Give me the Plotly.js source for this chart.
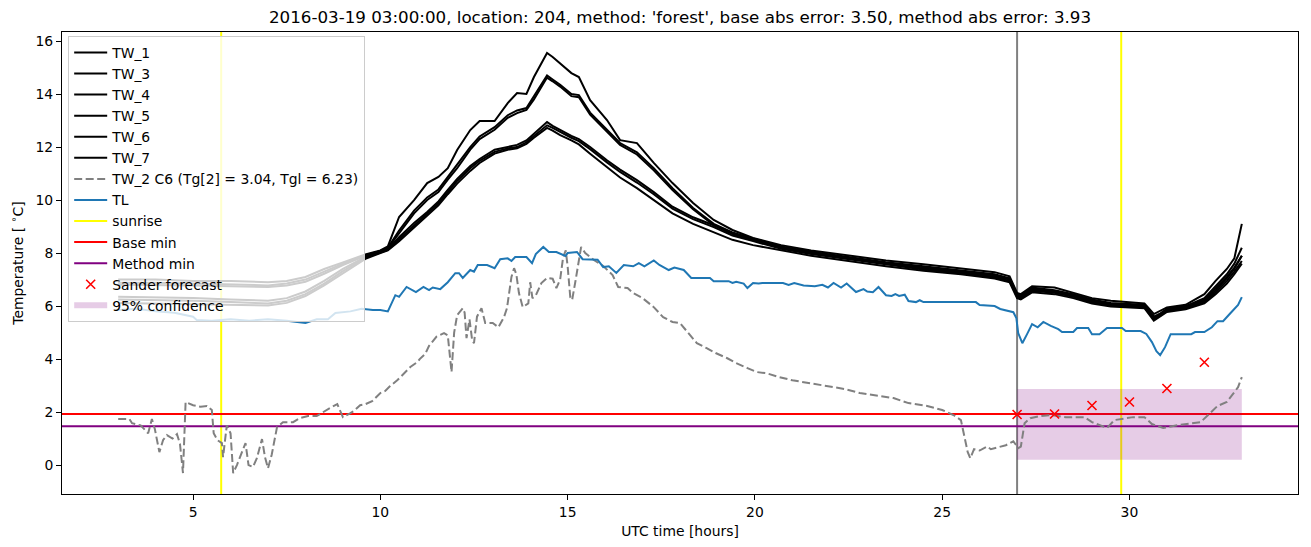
<!DOCTYPE html>
<html><head><meta charset="utf-8">
<script src="https://cdn.plot.ly/plotly-3.0.1.min.js"></script>
<style>html,body{margin:0;padding:0;background:#fff}#chart{width:1311px;height:547px}</style>
</head><body><div id="chart"></div>
<script>
// ---------------- data ----------------
const twHours = [3, 4, 5, 6, 7, 7.5, 8, 8.5, 9, 9.6, 10, 10.2, 10.5, 10.9, 11.25, 11.55, 11.8, 12.05, 12.4, 12.65,
  13.05, 13.4, 13.65, 13.9, 14.1, 14.45, 14.6, 14.8, 15.1, 15.3, 15.6, 16.05, 16.4, 16.85, 17.3, 17.8, 18.35, 18.9, 19.4, 19.95,
  20.7, 21.5, 22.5, 23.5, 24.5, 25.5, 26.4, 26.8, 27.0, 27.1, 27.4, 28.0, 28.5, 29.0, 29.5, 30.0, 30.4, 30.65, 30.8, 31.0,
  31.5, 32.0, 32.3, 32.6, 32.8, 33.0];
const tw1 = [7.0, 7.0, 6.95, 6.95, 6.9, 6.95, 7.1, 7.4, 7.65, 7.95, 8.1, 8.25, 9.36, 10.0, 10.64, 10.87, 11.2, 11.89, 12.64, 12.98,
  12.98, 13.66, 14.04, 14.0, 14.64, 15.55, 15.4, 15.17, 14.79, 14.64, 13.77, 13.02, 12.26, 12.15, 11.4, 10.64, 9.89, 9.25, 8.87, 8.57,
  8.3, 8.1, 7.9, 7.72, 7.58, 7.43, 7.28, 7.12, 6.5, 6.45, 6.75, 6.7, 6.5, 6.3, 6.2, 6.15, 6.1, 5.7, 5.8, 5.95,
  6.05, 6.45, 6.95, 7.4, 7.8, 9.1];
const tw3 = [6.88, 6.88, 6.85, 6.82, 6.78, 6.85, 7.0, 7.3, 7.6, 7.92, 8.08, 8.2, 8.85, 9.6, 10.1, 10.4, 10.87, 11.3, 12.0, 12.4,
  12.75, 13.2, 13.38, 13.47, 13.9, 14.7, 14.55, 14.35, 14.0, 13.96, 13.3, 12.64, 12.15, 11.8, 11.2, 10.45, 9.7, 9.1, 8.78, 8.55,
  8.25, 8.05, 7.85, 7.65, 7.5, 7.35, 7.2, 7.05, 6.45, 6.4, 6.7, 6.6, 6.45, 6.25, 6.12, 6.08, 6.05, 5.6, 5.7, 5.9,
  6.0, 6.3, 6.75, 7.2, 7.6, 8.2];
const tw4 = [6.8, 6.8, 6.78, 6.75, 6.72, 6.78, 6.92, 7.22, 7.55, 7.9, 8.06, 8.18, 8.75, 9.5, 10.0, 10.3, 10.77, 11.2, 11.9, 12.3,
  12.65, 13.1, 13.28, 13.4, 13.8, 14.62, 14.48, 14.28, 13.92, 13.88, 13.22, 12.56, 12.08, 11.72, 11.12, 10.38, 9.65, 9.05, 8.74, 8.5,
  8.22, 8.02, 7.82, 7.62, 7.46, 7.31, 7.16, 7.02, 6.42, 6.36, 6.66, 6.56, 6.4, 6.2, 6.08, 6.04, 6.02, 5.55, 5.66, 5.86,
  5.97, 6.25, 6.68, 7.1, 7.45, 7.9];
const tw5 = [6.35, 6.33, 6.3, 6.25, 6.2, 6.3, 6.55, 6.95, 7.4, 7.85, 8.05, 8.15, 8.6, 9.13, 9.55, 9.95, 10.38, 10.8, 11.28, 11.55,
  11.9, 12.02, 12.08, 12.25, 12.5, 12.94, 12.8, 12.64, 12.42, 12.3, 12.0, 11.5, 11.15, 10.75, 10.3, 9.75, 9.35, 9.05, 8.72, 8.5,
  8.2, 8.0, 7.8, 7.6, 7.42, 7.28, 7.12, 7.0, 6.4, 6.35, 6.62, 6.55, 6.4, 6.18, 6.05, 6.02, 5.98, 5.55, 5.65, 5.85,
  5.95, 6.2, 6.6, 7.05, 7.4, 7.9];
const tw6 = [6.25, 6.23, 6.2, 6.15, 6.1, 6.2, 6.45, 6.85, 7.32, 7.82, 8.03, 8.12, 8.52, 9.05, 9.48, 9.88, 10.3, 10.72, 11.2, 11.48,
  11.82, 11.95, 12.0, 12.18, 12.42, 12.82, 12.72, 12.56, 12.35, 12.22, 11.92, 11.42, 11.06, 10.66, 10.22, 9.68, 9.28, 8.98, 8.66, 8.45,
  8.16, 7.96, 7.76, 7.56, 7.38, 7.24, 7.08, 6.95, 6.35, 6.3, 6.58, 6.5, 6.35, 6.14, 6.02, 5.98, 5.95, 5.5, 5.62, 5.82,
  5.92, 6.15, 6.52, 6.95, 7.3, 7.7];
const tw7 = [6.12, 6.1, 6.08, 6.05, 6.02, 6.12, 6.38, 6.78, 7.25, 7.78, 8.0, 8.1, 8.45, 8.95, 9.4, 9.8, 10.22, 10.62, 11.1, 11.4,
  11.75, 11.9, 11.95, 12.12, 12.35, 12.72, 12.62, 12.45, 12.25, 12.1, 11.75, 11.25, 10.85, 10.45, 10.0, 9.5, 9.1, 8.8, 8.5, 8.3,
  8.1, 7.9, 7.7, 7.5, 7.33, 7.2, 7.04, 6.9, 6.3, 6.25, 6.52, 6.45, 6.3, 6.1, 5.98, 5.95, 5.92, 5.45, 5.58, 5.78,
  5.88, 6.1, 6.45, 6.85, 7.2, 7.6];
const twNames = ['TW_1', 'TW_3', 'TW_4', 'TW_5', 'TW_6', 'TW_7'];

// TL (air temperature) [hour, value]
const tlSeries = [[3.0,5.85],[3.5,5.9],[4.0,5.8],[4.5,5.75],[5.0,5.6],[5.1,5.47],[5.5,5.45],[6.0,5.5],[6.5,5.45],[7.0,5.5],
  [7.5,5.45],[8.0,5.36],[8.3,5.5],[8.6,5.5],[8.8,5.74],[9.2,5.8],[9.5,5.9],[9.8,5.85],[10.0,5.85],[10.2,5.8],
  [10.4,6.41],[10.5,6.35],[10.7,6.72],[10.95,6.53],[11.15,6.72],[11.3,6.6],[11.4,6.7],[11.6,6.64],[11.8,6.9],[12.0,7.24],
  [12.1,7.24],[12.2,7.06],[12.4,7.36],[12.5,7.3],[12.6,7.55],[12.85,7.55],[13.05,7.43],[13.2,7.77],[13.4,7.8],[13.5,7.7],
  [13.6,7.85],[13.9,7.85],[14.05,7.62],[14.15,7.96],[14.35,8.23],[14.5,8.04],[14.7,8.04],[14.85,7.95],[14.94,7.89],[15.0,8.0],
  [15.25,8.04],[15.4,7.77],[15.8,7.75],[15.95,7.47],[16.1,7.5],[16.3,7.25],[16.5,7.55],[16.75,7.5],[16.9,7.62],[17.05,7.5],
  [17.3,7.72],[17.45,7.55],[17.7,7.36],[17.85,7.45],[18.1,7.36],[18.3,7.06],[18.8,7.06],[18.9,6.94],[19.3,6.94],[19.4,6.87],
  [19.5,6.92],[19.7,6.85],[19.8,6.68],[19.95,6.87],[20.1,6.85],[20.2,6.87],[20.75,6.87],[20.9,6.8],[21.05,6.87],[21.3,6.78],
  [21.6,6.75],[21.8,6.8],[21.95,6.7],[22.1,6.87],[22.3,6.7],[22.45,6.85],[22.7,6.53],[22.9,6.64],[23.0,6.55],[23.15,6.52],
  [23.3,6.72],[23.5,6.41],[23.65,6.38],[23.75,6.45],[23.85,6.38],[24.0,6.43],[24.1,6.19],[24.3,6.15],[24.4,6.22],[24.5,6.15],
  [24.9,6.17],[25.0,6.15],[25.9,6.15],[26.0,6.04],[26.4,6.0],[26.55,5.89],[26.9,5.77],[26.98,5.55],[27.03,4.98],[27.14,4.6],
  [27.27,4.95],[27.4,5.32],[27.55,5.2],[27.7,5.4],[27.9,5.25],[28.1,5.13],[28.2,5.02],[28.5,5.02],[28.6,5.17],[28.9,5.17],
  [29.0,4.94],[29.2,4.94],[29.4,5.17],[29.8,5.17],[29.9,5.06],[30.3,5.06],[30.45,4.95],[30.6,4.64],[30.72,4.3],[30.82,4.15],
  [30.95,4.45],[31.1,4.94],[31.65,4.94],[31.75,5.02],[32.0,5.02],[32.2,5.2],[32.35,5.43],[32.5,5.43],[32.7,5.74],[32.9,6.04],
  [33.0,6.34]];

// TW_2 C6 [hour, value]
const tw2Series = [[3.0,1.74],[3.3,1.74],[3.37,1.58],[3.6,1.5],[3.8,1.2],[3.9,1.74],[3.98,1.35],[4.1,0.49],[4.2,0.95],[4.3,1.13],
  [4.45,1.0],[4.57,1.17],[4.65,0.8],[4.73,-0.3],[4.8,2.38],[5.0,2.26],[5.2,2.2],[5.37,2.23],[5.5,2.08],[5.55,1.2],
  [5.65,0.94],[5.77,0.83],[5.8,0.3],[5.9,1.5],[6.0,1.2],[6.07,-0.3],[6.17,0.0],[6.4,0.83],[6.48,0.0],[6.6,-0.07],
  [6.7,0.25],[6.84,0.98],[6.92,0.3],[7.0,-0.12],[7.1,0.4],[7.24,1.43],[7.4,1.62],[7.67,1.62],[7.85,1.77],[8.07,1.85],
  [8.3,1.85],[8.5,2.04],[8.65,2.15],[8.85,2.3],[8.93,2.0],[9.0,1.81],[9.2,1.96],[9.3,2.05],[9.46,2.26],[9.6,2.3],
  [9.78,2.41],[10.0,2.72],[10.13,2.8],[10.26,2.98],[10.45,3.2],[10.6,3.43],[10.8,3.7],[11.0,3.9],[11.05,4.0],[11.2,4.2],
  [11.3,4.5],[11.5,4.85],[11.7,4.98],[11.8,4.9],[11.9,3.51],[11.97,5.0],[12.05,5.66],[12.2,5.92],[12.25,5.75],[12.3,4.79],
  [12.38,5.5],[12.45,4.72],[12.5,4.6],[12.58,5.6],[12.7,5.92],[12.8,5.36],[13.0,5.36],[13.15,5.2],[13.3,5.58],[13.38,5.92],
  [13.5,7.1],[13.57,7.43],[13.63,7.2],[13.7,6.49],[13.8,5.96],[13.95,6.1],[14.0,6.9],[14.06,6.3],[14.15,6.4],[14.3,6.87],
  [14.45,7.06],[14.6,7.03],[14.7,6.68],[14.8,7.0],[14.88,7.85],[14.95,8.1],[15.0,7.5],[15.07,6.34],[15.12,6.23],[15.2,6.87],
  [15.28,7.6],[15.36,8.23],[15.47,8.0],[15.7,7.74],[15.95,7.51],[16.2,7.17],[16.35,6.72],[16.6,6.68],[16.75,6.49],[17.0,6.3],
  [17.3,5.96],[17.55,5.58],[17.8,5.4],[18.0,5.36],[18.2,5.02],[18.45,4.6],[18.7,4.42],[18.95,4.23],[19.25,4.04],[19.5,3.85],
  [19.8,3.66],[20.05,3.51],[20.3,3.47],[20.65,3.32],[21.0,3.2],[21.5,3.09],[21.9,2.98],[22.4,2.87],[22.8,2.72],[23.3,2.6],
  [23.7,2.53],[24.1,2.34],[24.6,2.23],[25.0,2.08],[25.3,1.89],[25.5,1.7],[25.6,1.06],[25.68,0.5],[25.75,0.26],[25.85,0.6],
  [26.0,0.55],[26.2,0.7],[26.3,0.6],[26.55,0.68],[26.7,0.75],[26.9,0.9],[26.95,0.8],[27.03,0.64],[27.1,0.7],[27.2,1.58],
  [27.35,1.77],[27.6,1.85],[27.9,1.89],[28.3,1.81],[28.8,1.81],[29.0,1.62],[29.4,1.4],[29.6,1.7],[30.1,1.81],[30.4,1.81],
  [30.6,1.55],[30.9,1.4],[31.3,1.51],[31.9,1.62],[32.1,1.89],[32.35,2.23],[32.6,2.38],[32.75,2.64],[32.9,2.94],[33.0,3.32]];

const sunriseHours = [5.75, 29.78];
const nowHour = 27.0;
const baseMin = 1.93;
const methodMin = 1.47;
const forecastHours = [27, 28, 29, 30, 31, 32];
const forecastTemp = [1.91, 1.93, 2.25, 2.38, 2.89, 3.88];
const confHours = [27, 33];
const confLower = [0.2, 0.2];
const confUpper = [2.87, 2.87];

const titleText = "2016-03-19 03:00:00, location: 204, method: 'forest', base abs error: 3.50, method abs error: 3.93";

// ---------------- traces ----------------
const FONT = 'DejaVu Sans, Liberation Sans, sans-serif';
const traces = [];
traces.push({
  x: confHours.concat(confHours.slice().reverse()),
  y: confLower.concat(confUpper.slice().reverse()),
  type: 'scatter', mode: 'none', fill: 'toself',
  fillcolor: 'rgba(128,0,128,0.2)', name: '95% confidence', legendrank: 13, hoverinfo: 'skip'
});
[tw1, tw3, tw4, tw5, tw6, tw7].forEach((vals, i) => {
  traces.push({x: twHours, y: vals, type: 'scatter', mode: 'lines', name: twNames[i],
    line: {color: '#000000', width: 2}, legendrank: i + 1});
});
traces.push({x: tw2Series.map(p => p[0]), y: tw2Series.map(p => p[1]), type: 'scatter', mode: 'lines',
  name: 'TW_2 C6 (Tg[2] = 3.04, Tgl = 6.23)', line: {color: '#808080', width: 2, dash: '8px,3.5px'}, legendrank: 7});
traces.push({x: tlSeries.map(p => p[0]), y: tlSeries.map(p => p[1]), type: 'scatter', mode: 'lines',
  name: 'TL', line: {color: '#1f77b4', width: 2}, legendrank: 8});
traces.push({x: forecastHours, y: forecastTemp, type: 'scatter', mode: 'markers', name: 'Sander forecast',
  marker: {symbol: 'x-thin-open', size: 9, color: '#ff0000', line: {color: '#ff0000', width: 1.6}}, legendrank: 12});

// ---------------- shapes ----------------
const shapes = [];
sunriseHours.forEach((h, i) => {
  shapes.push({type: 'line', xref: 'x', yref: 'paper', x0: h, x1: h, y0: 0, y1: 1, layer: 'below',
    line: {color: '#ffff00', width: 2}, showlegend: i === 0, name: 'sunrise', legendrank: 9});
});
shapes.push({type: 'line', xref: 'x', yref: 'paper', x0: nowHour, x1: nowHour, y0: 0, y1: 1, layer: 'below',
  line: {color: '#808080', width: 2}});
shapes.push({type: 'line', xref: 'paper', yref: 'y', x0: 0, x1: 1, y0: baseMin, y1: baseMin, layer: 'below',
  line: {color: '#ff0000', width: 2}, showlegend: true, name: 'Base min', legendrank: 10});
shapes.push({type: 'line', xref: 'paper', yref: 'y', x0: 0, x1: 1, y0: methodMin, y1: methodMin, layer: 'below',
  line: {color: '#800080', width: 2}, showlegend: true, name: 'Method min', legendrank: 11});

const axisCommon = {
  showgrid: false, zeroline: false, showline: true, mirror: true, linecolor: '#000', linewidth: 1,
  ticks: 'outside', ticklen: 5, tickwidth: 1, tickcolor: '#000',
  tickfont: {family: FONT, size: 13.9, color: '#000'}
};

const layout = {
  width: 1311, height: 547,
  margin: {l: 62, r: 13, t: 32, b: 53, pad: 0},
  paper_bgcolor: '#ffffff', plot_bgcolor: '#ffffff',
  font: {family: FONT, size: 13.9, color: '#000'},
  title: {text: titleText, font: {family: FONT, size: 16.7, color: '#000'},
    x: 0.5, xref: 'paper', xanchor: 'center', y: 1 - 17 / 547, yref: 'container', yanchor: 'middle'},
  xaxis: Object.assign({}, axisCommon, {range: [1.5, 34.5], tick0: 0, dtick: 5,
    title: {text: 'UTC time [hours]', standoff: 7, font: {family: FONT, size: 13.9, color: '#000'}}}),
  yaxis: Object.assign({}, axisCommon, {range: [-1.09, 16.34], tick0: 0, dtick: 2,
    title: {text: 'Temperature [ <sup>∘</sup>C]', standoff: 8, font: {family: FONT, size: 13.9, color: '#000'}}}),
  showlegend: true,
  legend: {x: 0.005, y: 0.9915, xanchor: 'left', yanchor: 'top', xref: 'paper', yref: 'paper',
    bgcolor: 'rgba(255,255,255,0.8)', bordercolor: '#cccccc', borderwidth: 1, itemwidth: 33,
    font: {family: FONT, size: 13.9, color: '#000'}, traceorder: 'normal'},
  shapes: shapes
};

Plotly.newPlot('chart', traces, layout, {displayModeBar: false, staticPlot: true});
</script></body></html>
